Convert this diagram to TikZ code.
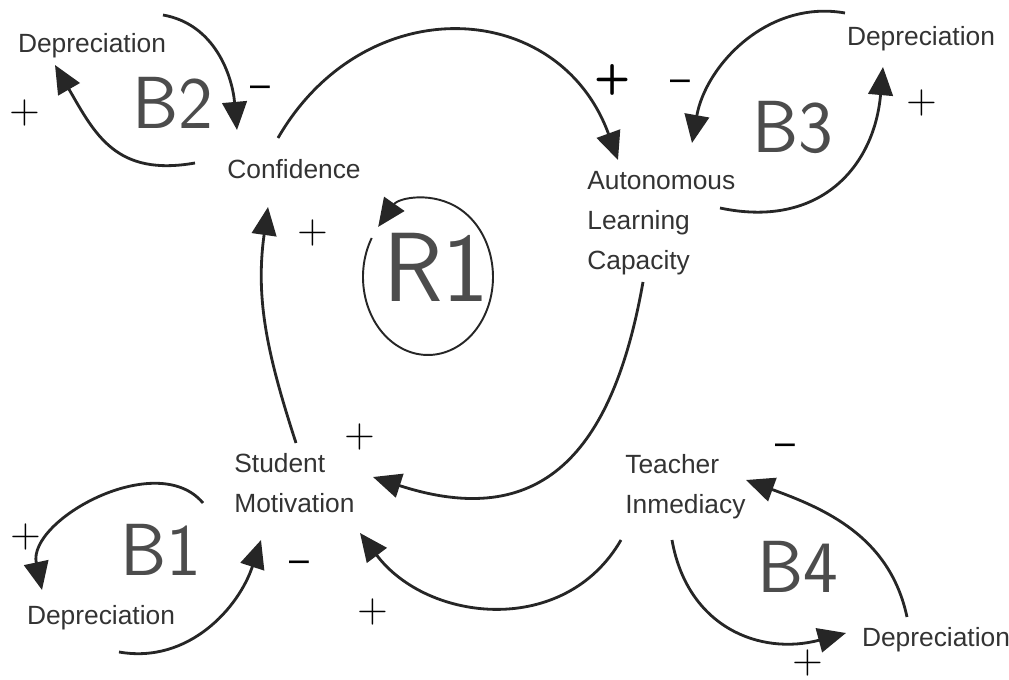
\documentclass[tikz,border=0pt]{standalone}
\usepackage{fontspec}
\setmainfont{Liberation Sans}
\usetikzlibrary{arrows.meta}

\tikzset{
  var/.style={inner sep=0pt, text=black!80, font=\fontsize{15}{22.8}\selectfont},
  loopname/.style={inner sep=0pt, text=black!70, font=\sffamily\fontsize{42}{42}\selectfont},
  sign/.style={inner sep=0pt, font=\sffamily\fontsize{24}{24}\selectfont},
  link/.style={-{Triangle[length=16pt,width=14pt]}, line width=1.6pt, black!85},
}

\begin{document}
\begin{tikzpicture}[x=0.02cm, y=0.02cm]
      \useasboundingbox (0,0) rectangle (1009,680);

      \begin{scope}[every node/.style={var}]
        \node (depB2) at (92,634)  {Depreciation};
        \node (conf)  at (294,511) {Confidence};
        \node[anchor=west, align=left] (alc)   at (587,457) {Autonomous\\Learning\\Capacity};
        \node (depB3) at (921,641) {Depreciation};
        \node[anchor=west, align=left] (mot)   at (234,197) {Student\\Motivation};
        \node[anchor=west, align=left] (teach) at (625,193) {Teacher\\Inmediacy};
        \node (depB1) at (101,62)  {Depreciation};
        \node (depB4) at (936,40)  {Depreciation};
      \end{scope}

      \begin{scope}[every node/.style={loopname}]
        \node (B2) at (173,577) {B2};
        \node (B3) at (793,553) {B3};
        \node[font=\sffamily\fontsize{56}{56}\selectfont] (R1) at (436,413) {R1};
        \node (B1) at (161,130) {B1};
        \node (B4) at (798,113) {B4};
      \end{scope}

      % loop marker round R1
      \draw[link, line width=1.1pt] ([shift={(-8,-10)}]R1.center) ++(150:65 and 78)
        arc[start angle=150, end angle=500, x radius=1.3cm, y radius=1.56cm];

      \begin{scope}[every node/.style={sign}]
        \node (s1)  at (25,567)  {+};
        \node (s2)  at (260,588) {–};
        \node (s3)  at (313,447) {+};
        \node[font=\sffamily\bfseries\fontsize{24}{24}\selectfont] (s4) at (613,600) {+};
        \node (s5)  at (680,594) {–};
        \node (s6)  at (922,577) {+};
        \node (s7)  at (360,243) {+};
        \node (s8)  at (26,143)  {+};
        \node (s9)  at (299,113) {–};
        \node (s10) at (373,68)  {+};
        \node (s11) at (785,230) {–};
        \node (s12) at (808,17)  {+};
      \end{scope}

      \begin{scope}[every edge/.style={draw, link}]
        \path ([shift={(-99,6)}]conf.center)   edge[out=190, in=-60, looseness=1.2]  ([shift={(-37,-19)}]depB2.center);
        \path ([shift={(71,31)}]depB2.center)  edge[out=-10, in=95]                  ([shift={(-57,39)}]conf.center);
        \path ([shift={(-16,31)}]conf.center)  edge[out=60, in=110, looseness=1.3]   ([shift={(31,63)}]alc.west);
        \path ([shift={(133,15)}]alc.west)     edge[out=-12, in=-95, looseness=1.2]  ([shift={(-38,-28)}]depB3.center);
        \path ([shift={(-76,26)}]depB3.center) edge[out=170, in=80]                  ([shift={(105,80)}]alc.west);
        \path ([shift={(56,-59)}]alc.west)     edge[out=-100, in=-18, looseness=1.35] ([shift={(139,6)}]mot.west);
        \path ([shift={(62,40)}]mot.west)      edge[out=108, in=-98]                 ([shift={(-26,-38)}]conf.center);
        \path ([shift={(-31,-20)}]mot.west)    edge[out=130, in=102]                 ([shift={(-59,28)}]depB1.center);
        \path ([shift={(18,-34)}]depB1.center) edge[out=-10, in=-108]                ([shift={(27,-57)}]mot.west);
        \path ([shift={(-4,-53)}]teach.west)   edge[out=-120, in=-53, looseness=1.1] ([shift={(126,-50)}]mot.west);
        \path ([shift={(47,-53)}]teach.west)   edge[out=-80, in=195, looseness=1.15] ([shift={(-90,7)}]depB4.center);
        \path ([shift={(-29,23)}]depB4.center) edge[out=102, in=-20]                 ([shift={(121,7)}]teach.west);
      \end{scope}

    \end{tikzpicture}
\end{document}
